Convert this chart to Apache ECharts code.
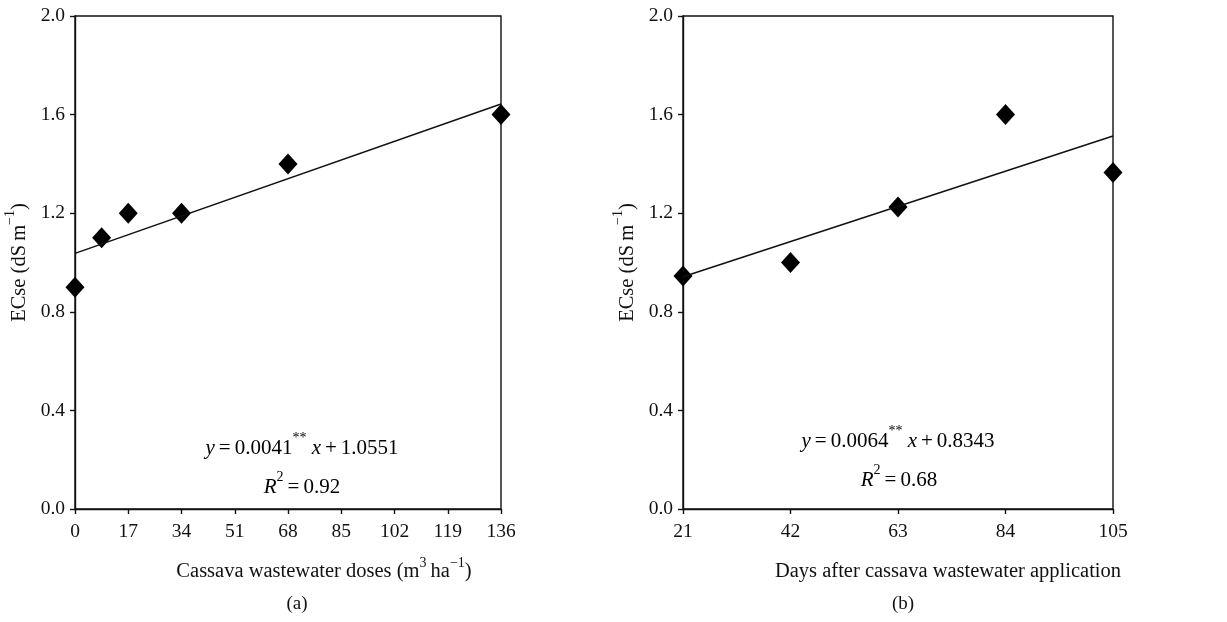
<!DOCTYPE html>
<html>
<head>
<meta charset="utf-8">
<script src="https://cdn.jsdelivr.net/npm/echarts@6/dist/echarts.min.js"></script>
<style>
html,body{margin:0;padding:0;background:#fff;}
#c{width:1227px;height:622px;}
</style>
</head>
<body>
<div id="c"></div>
<script>
// Panel (a): ECse vs cassava wastewater dose
const dosesA = [0, 8.5, 17, 34, 68, 136];
const ecseA = [0.90, 1.10, 1.20, 1.20, 1.40, 1.60];
const fitXA = [0, 136];
const fitYA = [1.037, 1.643];
const xTicksA = {min: 0, max: 136, interval: 17};

// Panel (b): ECse vs days after application
const daysB = [21, 42, 63, 84, 105];
const ecseB = [0.945, 1.00, 1.225, 1.60, 1.365];
const fitXB = [21, 105];
const fitYB = [0.942, 1.513];
const xTicksB = {min: 21, max: 105, interval: 21};

const yTicks = {min: 0, max: 2.0, interval: 0.4};

const FONT = 'Liberation Serif';
const chart = echarts.init(document.getElementById('c'));

function richSet(size) {
  return {
    n: {fontFamily: FONT, fontSize: size, color: '#111', lineHeight: size + 6, verticalAlign: 'bottom'},
    i: {fontFamily: FONT, fontSize: size, color: '#111', fontStyle: 'italic', lineHeight: size + 6, verticalAlign: 'bottom'},
    s: {fontFamily: FONT, fontSize: Math.round(size * 0.68), color: '#111', lineHeight: size + 6, verticalAlign: 'top'},
    g: {fontFamily: FONT, fontSize: size, color: '#111', lineHeight: size + 6, verticalAlign: 'bottom', padding: [0, 4, 0, 4]}
  };
}
const axisRich = richSet(20.5);
const eqRich = richSet(21);

function yAxisCfg(idx) {
  return {
    type: 'value', gridIndex: idx,
    min: yTicks.min, max: yTicks.max, interval: yTicks.interval,
    name: '{n|ECse (dS\u2009m}{s|\u22121}{n|)}',
    nameLocation: 'middle', nameGap: 45, nameRotate: 90,
    nameTextStyle: {rich: richSet(20.5)},
    axisLine: {show: true, lineStyle: {color: '#111', width: 1.4}},
    axisTick: {show: true, inside: false, length: 5, lineStyle: {color: '#111', width: 1.4}},
    axisLabel: {color: '#111', fontFamily: FONT, fontSize: 19.5, margin: 10,
      formatter: v => v.toFixed(1)},
    splitLine: {show: false}
  };
}
function xAxisCfg(idx, t, name, shift) {
  return {
    type: 'value', gridIndex: idx,
    min: t.min, max: t.max, interval: t.interval,
    name: name, nameLocation: 'middle', nameGap: 47,
    nameTextStyle: {rich: axisRich, padding: [0, 0, 0, shift * 2]},
    axisLine: {show: true, onZero: false, lineStyle: {color: '#111', width: 1.4}},
    axisTick: {show: true, inside: false, length: 5, lineStyle: {color: '#111', width: 1.4}},
    axisLabel: {color: '#111', fontFamily: FONT, fontSize: 19.5, margin: 13, showMaxLabel: true, showMinLabel: true},
    splitLine: {show: false}
  };
}

const option = {
  backgroundColor: '#fff',
  animation: false,
  grid: [
    {left: 75, top: 16, width: 426, height: 493, show: true, borderColor: '#111', borderWidth: 1.4, backgroundColor: 'transparent'},
    {left: 683, top: 16, width: 430, height: 493, show: true, borderColor: '#111', borderWidth: 1.4, backgroundColor: 'transparent'}
  ],
  xAxis: [
    xAxisCfg(0, xTicksA, '{n|Cassava wastewater doses (m}{s|3}{n|\u2009ha}{s|\u22121}{n|)}', 36),
    xAxisCfg(1, xTicksB, '{n|Days after cassava wastewater application}', 50)
  ],
  yAxis: [yAxisCfg(0), yAxisCfg(1)],
  series: [
    {type: 'line', xAxisIndex: 0, yAxisIndex: 0, symbol: 'none', silent: true,
      lineStyle: {color: '#111', width: 1.5},
      data: fitXA.map((x, k) => [x, fitYA[k]])},
    {type: 'scatter', xAxisIndex: 0, yAxisIndex: 0, symbol: 'diamond', symbolSize: [19, 21],
      itemStyle: {color: '#000', opacity: 1}, clip: false,
      data: dosesA.map((x, k) => [x, ecseA[k]])},
    {type: 'line', xAxisIndex: 1, yAxisIndex: 1, symbol: 'none', silent: true,
      lineStyle: {color: '#111', width: 1.5},
      data: fitXB.map((x, k) => [x, fitYB[k]])},
    {type: 'scatter', xAxisIndex: 1, yAxisIndex: 1, symbol: 'diamond', symbolSize: [19, 21],
      itemStyle: {color: '#000', opacity: 1}, clip: false,
      data: daysB.map((x, k) => [x, ecseB[k]])}
  ],
  graphic: [
    {type: 'text', x: 302, y: 445, style: {
      text: '{i|y}{g|=}{n|0.0041}{s|**}{n| }{i|x}{g|+}{n|1.0551}', rich: eqRich, align: 'center', verticalAlign: 'middle'}},
    {type: 'text', x: 302, y: 484, style: {
      text: '{i|R}{s|2}{g|=}{n|0.92}', rich: eqRich, align: 'center', verticalAlign: 'middle'}},
    {type: 'text', x: 898, y: 438, style: {
      text: '{i|y}{g|=}{n|0.0064}{s|**}{n| }{i|x}{g|+}{n|0.8343}', rich: eqRich, align: 'center', verticalAlign: 'middle'}},
    {type: 'text', x: 899, y: 477, style: {
      text: '{i|R}{s|2}{g|=}{n|0.68}', rich: eqRich, align: 'center', verticalAlign: 'middle'}},
    {type: 'text', x: 297, y: 604, style: {
      text: '(a)', fontFamily: FONT, fontSize: 19, fill: '#111', align: 'center', verticalAlign: 'middle'}},
    {type: 'text', x: 903, y: 604, style: {
      text: '(b)', fontFamily: FONT, fontSize: 19, fill: '#111', align: 'center', verticalAlign: 'middle'}}
  ]
};
chart.setOption(option);
</script>
</body>
</html>
